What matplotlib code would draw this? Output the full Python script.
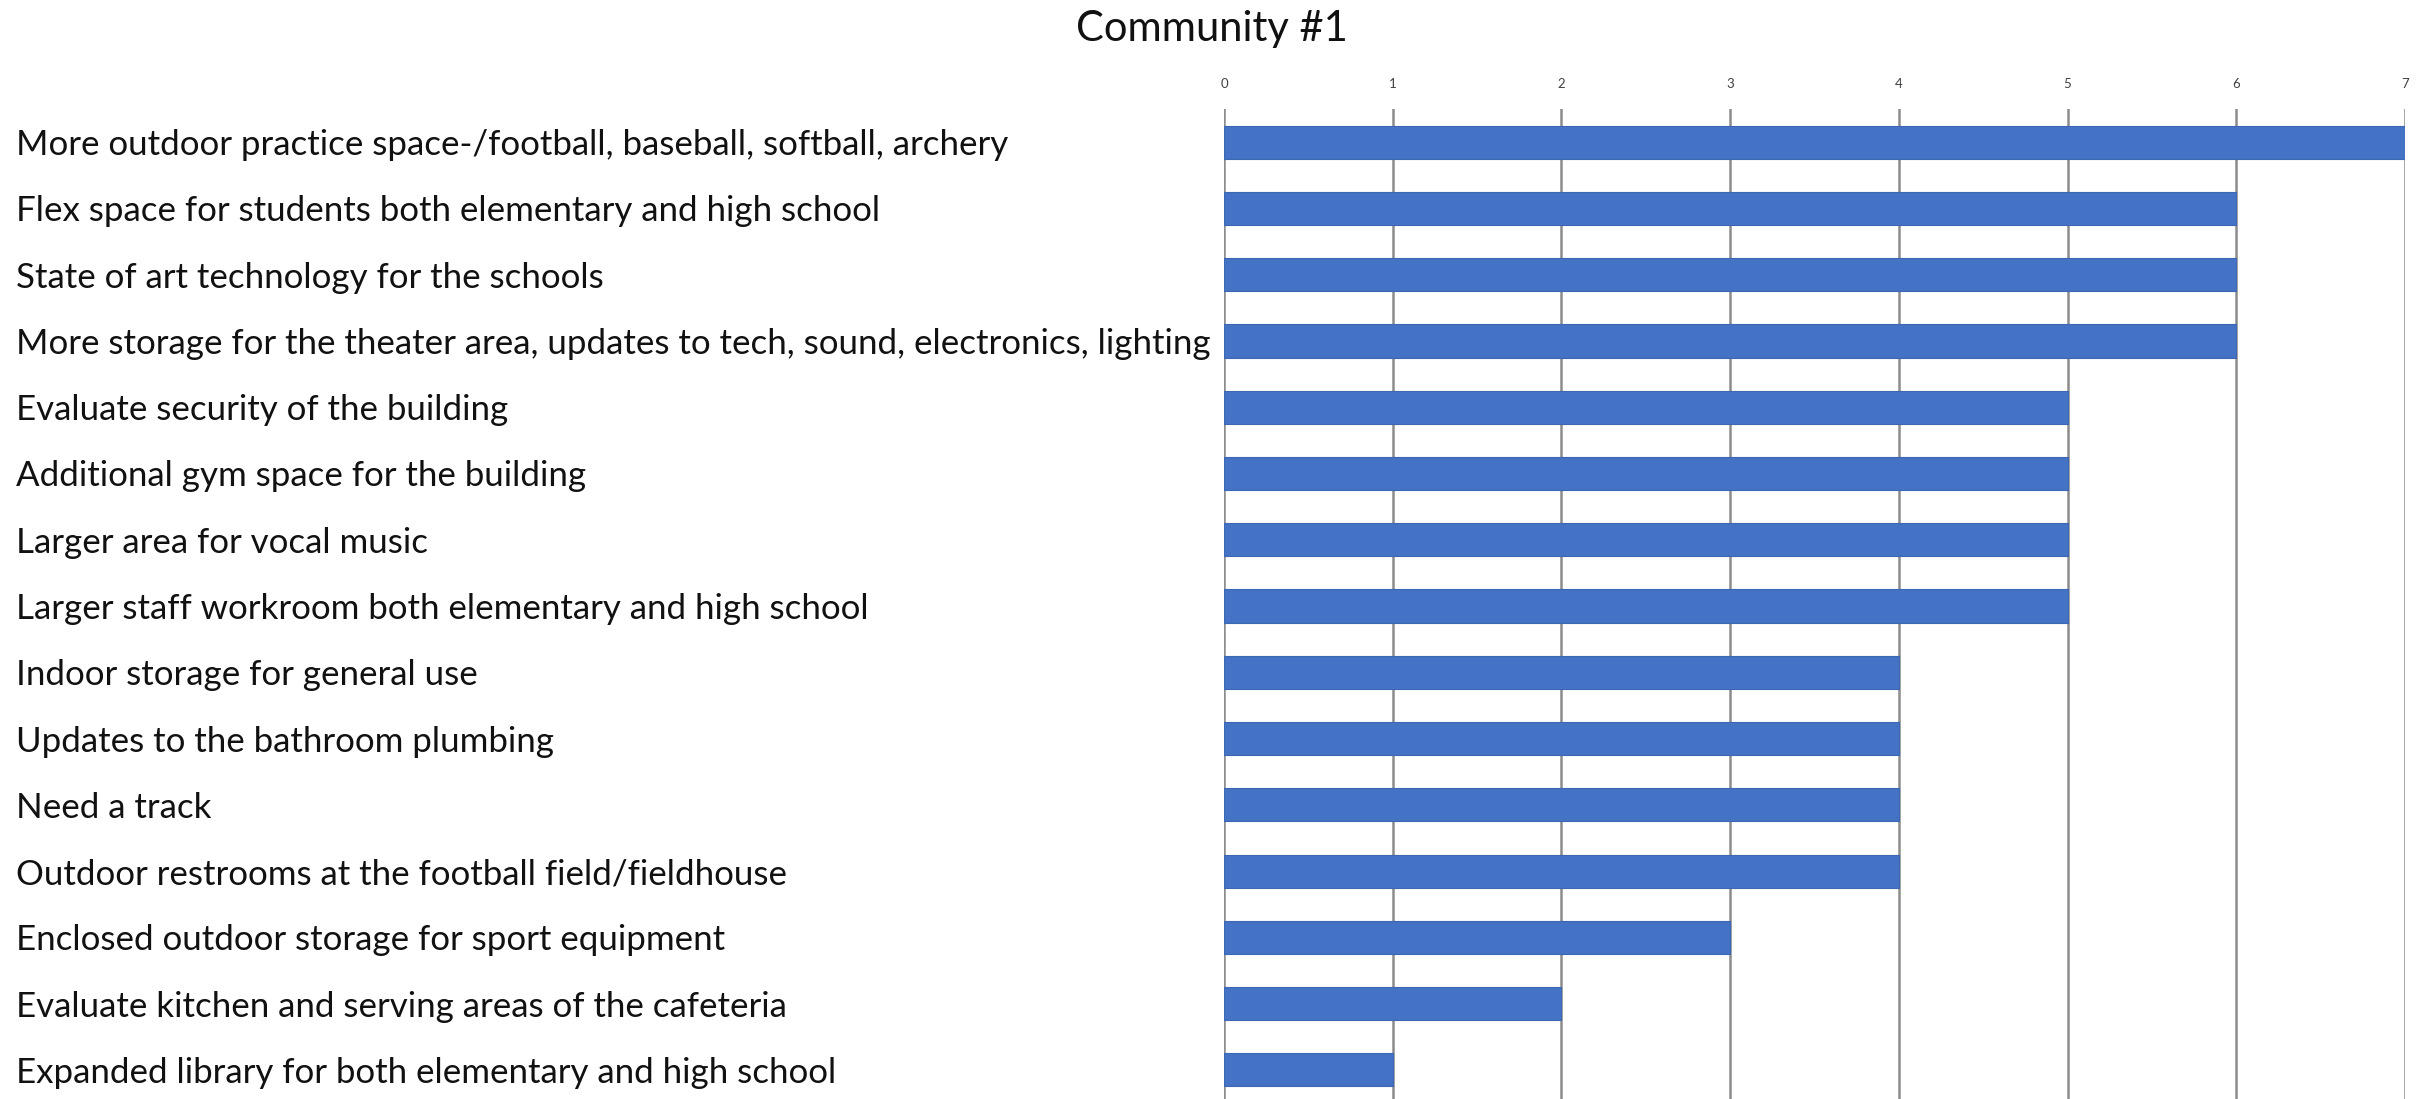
import matplotlib
matplotlib.use("Agg")
import matplotlib.pyplot as plt

categories = [
    "More outdoor practice space-/football, baseball, softball, archery",
    "Flex space for students both elementary and high school",
    "State of art technology for the schools",
    "More storage for the theater area, updates to tech, sound, electronics, lighting",
    "Evaluate security of the building",
    "Additional gym space for the building",
    "Larger area for vocal music",
    "Larger staff workroom both elementary and high school",
    "Indoor storage for general use",
    "Updates to the bathroom plumbing",
    "Need a track",
    "Outdoor restrooms at the football field/fieldhouse",
    "Enclosed outdoor storage for sport equipment",
    "Evaluate kitchen and serving areas of the cafeteria",
    "Expanded library for both elementary and high school",
]
values = [7, 6, 6, 6, 5, 5, 5, 5, 4, 4, 4, 4, 3, 2, 1]
xticks = [0, 1, 2, 3, 4, 5, 6, 7]
title = "Community #1"

W, H, DPI = 2435, 1099, 100
fig = plt.figure(figsize=(W / DPI, H / DPI), dpi=DPI)
left_px, right_px, top_px, bottom_px = 1224, 2405, 109, 1103
ax = fig.add_axes([left_px / W, 1 - bottom_px / H,
                   (right_px - left_px) / W, (bottom_px - top_px) / H])

fam = ["Lato", "DejaVu Sans"]
y = list(range(len(categories)))
ax.barh(y, values, height=0.5, color="#4472C4", edgecolor="#3d67b3",
        linewidth=0.8, zorder=3)
ax.set_ylim(len(categories) - 0.5, -0.5)
ax.set_xlim(0, 7)
ax.set_xticks(xticks)
ax.xaxis.tick_top()
ax.tick_params(axis="x", length=0, pad=14, labelsize=9.5, labelcolor="#404040")
for t in ax.get_xticklabels():
    t.set_family(fam)
ax.grid(axis="x", color="#8c8c8c", linewidth=1.8, zorder=0)
for s in ax.spines.values():
    s.set_visible(False)

ax.set_yticks(y)
labels = ax.set_yticklabels(categories, ha="left", fontsize=21, family=fam, color="#111111")
ax.tick_params(axis="y", length=0, pad=(left_px - 16) * 72 / DPI)

# fit label font size so longest label spans the measured width
fig.canvas.draw()
r = fig.canvas.get_renderer()
target = 1193
longest = max(labels, key=lambda t: t.get_window_extent(r).width)
wdt = longest.get_window_extent(r).width
fs = 21 * target / wdt
for t in labels:
    t.set_fontsize(fs)

fig.text(1212 / W, 1 - 29 / H, title, ha="center", va="center", fontsize=30,
         family=fam, color="#111111")

fig.savefig("out.png", dpi=DPI)
